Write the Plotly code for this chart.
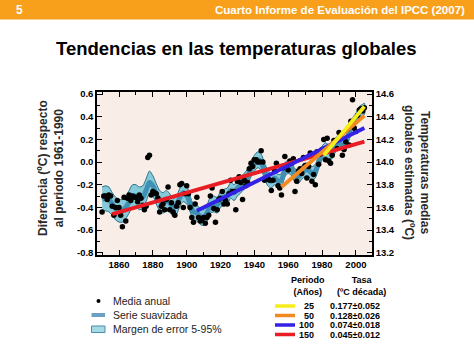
import plotly.graph_objects as go

# ---------------- data ----------------
years = list(range(1850, 2006))
annual = [
    -0.44, -0.30, -0.30, -0.33, -0.29, -0.30, -0.39, -0.47, -0.40, -0.34,
    -0.40, -0.47, -0.57, -0.31, -0.52, -0.32, -0.29, -0.34, -0.30, -0.31,
    -0.31, -0.35, -0.29, -0.32, -0.38, -0.42, -0.39, 0.04, 0.06, -0.29,
    -0.26, -0.27, -0.28, -0.32, -0.44, -0.39, -0.37, -0.42, -0.33, -0.22,
    -0.42, -0.36, -0.44, -0.47, -0.39, -0.36, -0.20, -0.19, -0.40, -0.28,
    -0.21, -0.28, -0.40, -0.49, -0.53, -0.37, -0.31, -0.49, -0.52, -0.51,
    -0.49, -0.54, -0.49, -0.47, -0.30, -0.23, -0.41, -0.53, -0.42, -0.33,
    -0.32, -0.26, -0.37, -0.34, -0.37, -0.28, -0.16, -0.26, -0.26, -0.42,
    -0.17, -0.13, -0.18, -0.33, -0.16, -0.21, -0.18, -0.06, -0.01, -0.04,
    0.02, 0.02, 0.00, 0.00, 0.10, 0.00, -0.16, -0.15, -0.15, -0.16,
    -0.25, -0.16, -0.08, -0.01, -0.21, -0.23, -0.29, -0.05, 0.05, -0.03,
    -0.07, 0.01, -0.01, 0.03, -0.26, -0.17, -0.08, -0.06, -0.10, 0.04,
    -0.03, -0.14, -0.04, 0.08, -0.17, -0.11, -0.20, 0.09, -0.02, 0.07,
    0.11, 0.20, 0.02, 0.21, 0.01, -0.01, 0.06, 0.19, 0.19, 0.12,
    0.26, 0.21, 0.06, 0.11, 0.18, 0.29, 0.15, 0.36, 0.55, 0.30,
    0.27, 0.41, 0.46, 0.47, 0.45, 0.48,
]

smooth_years = [1850, 1852, 1854, 1856, 1858, 1860, 1862, 1864, 1866, 1868,
                1870, 1872, 1874, 1876, 1878, 1880, 1882, 1884, 1886, 1888,
                1890, 1892, 1894, 1896, 1898, 1900, 1902, 1904, 1906, 1908,
                1910, 1912, 1914, 1916, 1918, 1920, 1922, 1924, 1926, 1928,
                1930, 1932, 1934, 1936, 1938, 1940, 1942, 1944, 1946, 1948,
                1950, 1952, 1954, 1956, 1958, 1960, 1962, 1964, 1966, 1968,
                1970, 1972, 1974, 1976, 1978, 1980, 1982, 1984, 1986, 1988,
                1990, 1992, 1994, 1996, 1998, 2000, 2002, 2004, 2005]
smooth = [-0.33, -0.32, -0.33, -0.37, -0.41, -0.43, -0.43, -0.40, -0.35, -0.30,
          -0.30, -0.32, -0.31, -0.25, -0.18, -0.21, -0.28, -0.34, -0.36, -0.34,
          -0.36, -0.40, -0.38, -0.31, -0.27, -0.29, -0.37, -0.44, -0.45, -0.48,
          -0.49, -0.45, -0.38, -0.37, -0.38, -0.33, -0.31, -0.30, -0.25, -0.27,
          -0.23, -0.20, -0.17, -0.13, -0.06, -0.01, 0.02, 0.00, -0.08, -0.14,
          -0.17, -0.14, -0.17, -0.16, -0.07, -0.04, -0.06, -0.12, -0.13, -0.09,
          -0.07, -0.07, -0.10, -0.08, 0.00, 0.08, 0.11, 0.09, 0.09, 0.15,
          0.18, 0.15, 0.18, 0.25, 0.34, 0.38, 0.44, 0.46, 0.47]
err_half = [0.11, 0.11, 0.11, 0.10, 0.10, 0.10, 0.10, 0.10, 0.10, 0.10,
            0.10, 0.10, 0.10, 0.10, 0.10, 0.09, 0.09, 0.09, 0.09, 0.09,
            0.08, 0.08, 0.08, 0.08, 0.08, 0.08, 0.07, 0.07, 0.07, 0.07,
            0.07, 0.07, 0.07, 0.07, 0.07, 0.07, 0.07, 0.07, 0.07, 0.07,
            0.07, 0.07, 0.07, 0.07, 0.07, 0.07, 0.07, 0.07, 0.07, 0.07,
            0.06, 0.06, 0.06, 0.06, 0.06, 0.06, 0.06, 0.06, 0.06, 0.06,
            0.06, 0.06, 0.06, 0.06, 0.06, 0.06, 0.06, 0.06, 0.06, 0.06,
            0.06, 0.05, 0.05, 0.05, 0.05, 0.05, 0.05, 0.05, 0.05]

trend_periods = ["25", "50", "100", "150"]
trend_rates = ["0.177±0.052", "0.128±0.026", "0.074±0.018", "0.045±0.012"]
trend_colors = ["#f6ee1c", "#f28a22", "#3322e6", "#ea1c24"]
trend_start_year = [1981, 1956, 1906, 1856]
trend_end_year = [2005, 2005, 2005, 2005]
trend_start_val = [0.06, -0.22, -0.43, -0.46]
trend_end_val = [0.49, 0.41, 0.30, 0.18]

left_ticks = [0.6, 0.4, 0.2, 0.0, -0.2, -0.4, -0.6, -0.8]
right_ticks = [14.6, 14.4, 14.2, 14.0, 13.8, 13.6, 13.4, 13.2]
x_ticks = [1860, 1880, 1900, 1920, 1940, 1960, 1980, 2000]
offset = 14.0

# ---------------- geometry helpers ----------------
W, H = 474, 355
L, R, T, B = 97, 102, 92, 100
PW, PH = W - L - R, H - T - B


def px(x):
    return (x - L) / PW


def py(y):
    return (H - B - y) / PH


FONT = "Liberation Sans, Arial, Helvetica, sans-serif"
YR = [-0.82, 0.618]

fig = go.Figure()

# error band
upper = [s + e for s, e in zip(smooth, err_half)]
lower = [s - e for s, e in zip(smooth, err_half)]
fig.add_trace(go.Scatter(
    x=smooth_years + smooth_years[::-1], y=upper + lower[::-1],
    fill="toself", fillcolor="#86c9d8", mode="lines",
    line=dict(color="#26708a", width=1, shape="spline", smoothing=0.8),
    hoverinfo="skip", showlegend=False))
# smoothed series
fig.add_trace(go.Scatter(
    x=smooth_years, y=smooth, mode="lines",
    line=dict(color="#3f90b3", width=5, shape="spline", smoothing=0.8),
    hoverinfo="skip", showlegend=False))
# annual means
fig.add_trace(go.Scatter(
    x=years, y=annual, mode="markers",
    marker=dict(color="black", size=5.5), showlegend=False))
# trend lines (150 first, 25 last on top)
for i in [3, 2, 1, 0]:
    fig.add_trace(go.Scatter(
        x=[trend_start_year[i], trend_end_year[i]],
        y=[trend_start_val[i], trend_end_val[i]],
        mode="lines", line=dict(color=trend_colors[i], width=3.8),
        showlegend=False))
# invisible trace for right axis
fig.add_trace(go.Scatter(x=[years[0]], y=[annual[0] + offset], yaxis="y2",
                         mode="markers", marker=dict(opacity=0),
                         hoverinfo="skip", showlegend=False))

tickfont = dict(family=FONT, size=9.5, color="black", weight="bold")
fig.update_layout(
    width=W, height=H,
    margin=dict(l=L, r=R, t=T, b=B),
    paper_bgcolor="white", plot_bgcolor="#f8ede7",
    showlegend=False,
    xaxis=dict(range=[1847, 2009.5], showgrid=False, zeroline=False,
               tickvals=x_ticks, ticktext=[str(v) for v in x_ticks],
               ticks="inside", ticklen=5, tickcolor="black", tickwidth=1,
               minor=dict(dtick=10, ticks="inside", ticklen=3, tickcolor="black"),
               showline=True, linecolor="black", linewidth=1.5, mirror="ticks",
               tickfont=tickfont),
    yaxis=dict(range=YR, showgrid=False, zeroline=False,
               tickvals=left_ticks,
               ticktext=[f"{v:.1f}".replace("−", "-") for v in left_ticks],
               ticks="inside", ticklen=5, tickcolor="black", tickwidth=1,
               minor=dict(dtick=0.1, ticks="inside", ticklen=3, tickcolor="black"),
               showline=True, linecolor="black", linewidth=1.5,
               tickfont=tickfont),
    yaxis2=dict(range=[YR[0] + offset, YR[1] + offset], overlaying="y", side="right",
                showgrid=False, zeroline=False,
                tickvals=right_ticks, ticktext=[f"{v:.1f}" for v in right_ticks],
                ticks="inside", ticklen=5, tickcolor="black", tickwidth=1,
                minor=dict(dtick=0.1, ticks="inside", ticklen=3, tickcolor="black"),
                showline=True, linecolor="black", linewidth=1.5,
                tickfont=tickfont),
)

shapes = []
annotations = []

# header bar
shapes.append(dict(type="rect", xref="paper", yref="paper",
                   x0=px(0), x1=px(W), y0=py(19.5), y1=py(0),
                   fillcolor="#f8a01c", line=dict(width=0), layer="below"))
annotations.append(dict(xref="paper", yref="paper", x=px(14), y=py(10),
                        xanchor="left", yanchor="middle", showarrow=False,
                        text="<b>5</b>", font=dict(family=FONT, size=12, color="white")))
annotations.append(dict(xref="paper", yref="paper", x=px(467), y=py(10),
                        xanchor="right", yanchor="middle", showarrow=False,
                        text="<b>Cuarto Informe de Evaluación del IPCC (2007)</b>",
                        font=dict(family=FONT, size=11.5, color="white")))
# title
annotations.append(dict(xref="paper", yref="paper", x=px(237), y=py(49),
                        xanchor="center", yanchor="middle", showarrow=False,
                        text="<b>Tendencias en las temperaturas globales</b>",
                        font=dict(family=FONT, size=18.5, color="black")))
# axis titles
annotations.append(dict(xref="paper", yref="paper", x=px(51), y=py(168),
                        xanchor="center", yanchor="middle", showarrow=False, textangle=-90,
                        text="<b>Diferencia (ºC) respecto<br>al periodo 1961-1990</b>",
                        font=dict(family=FONT, size=12, color="#2a2a2a")))
annotations.append(dict(xref="paper", yref="paper", x=px(417), y=py(172),
                        xanchor="center", yanchor="middle", showarrow=False, textangle=90,
                        text="<b>Temperaturas medias<br>globales estimadas (ºC)</b>",
                        font=dict(family=FONT, size=12, color="#2a2a2a")))

# left legend
lf = dict(family=FONT, size=10.5, color="#222")
shapes.append(dict(type="circle", xref="paper", yref="paper",
                   x0=px(96.5), x1=px(100.5), y0=py(303), y1=py(299),
                   fillcolor="black", line=dict(width=0)))
shapes.append(dict(type="rect", xref="paper", yref="paper",
                   x0=px(91.5), x1=px(105), y0=py(317), y1=py(313),
                   fillcolor="#6c9fc2", line=dict(width=0)))
shapes.append(dict(type="rect", xref="paper", yref="paper",
                   x0=px(91.5), x1=px(105), y0=py(332.5), y1=py(326),
                   fillcolor="#a6dbe5", line=dict(width=1, color="#4a8ea8")))
for yy, t in [(301, "Media anual"), (315, "Serie suavizada"), (329, "Margen de error 5-95%")]:
    annotations.append(dict(xref="paper", yref="paper", x=px(111), y=py(yy),
                            xanchor="left", yanchor="middle", showarrow=False,
                            text=t, font=lf))

# right legend (trend table)
hf = dict(family=FONT, size=9, color="black")
annotations.append(dict(xref="paper", yref="paper", x=px(308), y=py(286),
                        xanchor="center", yanchor="middle", showarrow=False,
                        text="<b>Periodo<br>(Años)</b>", font=hf))
annotations.append(dict(xref="paper", yref="paper", x=px(361), y=py(286),
                        xanchor="center", yanchor="middle", showarrow=False,
                        text="<b>Tasa<br>(ºC década)</b>", font=hf))
row_y = [306, 315.5, 325, 334.5]
for i in range(4):
    shapes.append(dict(type="line", xref="paper", yref="paper",
                       x0=px(275), x1=px(295), y0=py(row_y[i]), y1=py(row_y[i]),
                       line=dict(color=trend_colors[i], width=3.5)))
    annotations.append(dict(xref="paper", yref="paper", x=px(316), y=py(row_y[i]),
                            xanchor="right", yanchor="middle", showarrow=False,
                            text=f"<b>{trend_periods[i]}</b>", font=hf))
    annotations.append(dict(xref="paper", yref="paper", x=px(328), y=py(row_y[i]),
                            xanchor="left", yanchor="middle", showarrow=False,
                            text=f"<b>{trend_rates[i]}</b>", font=hf))

fig.update_layout(shapes=shapes, annotations=annotations)
fig.write_html("out.html", config={"displayModeBar": False},
               post_script="document.body.style.margin='0';document.body.style.overflow='hidden';")
